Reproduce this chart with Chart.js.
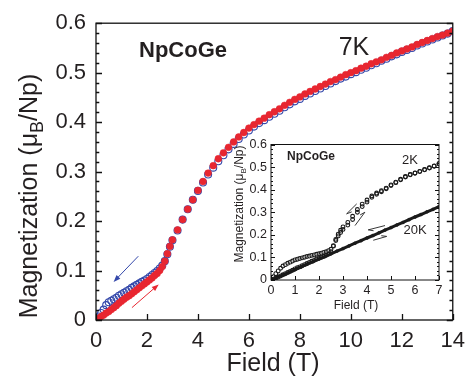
<!DOCTYPE html>
<html><head><meta charset="utf-8">
<script src="https://cdn.jsdelivr.net/npm/chart.js@4.4.1/dist/chart.umd.min.js"></script>
<style>
html,body{margin:0;padding:0;background:#fff;}
#wrap{position:relative;width:473px;height:384px;overflow:hidden;}
#main{position:absolute;left:0;top:0;}
#inset{position:absolute;left:222px;top:133px;}
</style></head><body>
<div id="wrap"><canvas id="main" width="473" height="384"></canvas><canvas id="inset" width="230" height="185"></canvas></div>
<script>
// ---------- MAIN PANEL DATA (7 K) ----------
const fieldMain = [0,0.1,0.2,0.3,0.4,0.5,0.6,0.7,0.8,0.9,1.0,1.1,1.2,1.3,1.4,1.5,1.6,1.7,1.8,1.9,2.0,2.1,2.2,2.3,2.4,2.5,2.6,2.7,2.8,2.9,3.0,
  3.2,3.4,3.6,3.8,4.0,4.2,4.4,4.6,4.8,5.0,5.2,5.4,5.6,5.8,6.0,6.2,6.4,6.6,6.8,7.0,7.2,7.4,7.6,7.8,8.0,8.2,8.4,8.6,8.8,9.0,
  9.2,9.4,9.6,9.8,10.0,10.2,10.4,10.6,10.8,11.0,11.2,11.4,11.6,11.8,12.0,12.2,12.4,12.6,12.8,13.0,13.2,13.4,13.6,13.8,14.0];
const magUp7K = [0.000,0.003,0.007,0.010,0.014,0.017,0.021,0.025,0.029,0.034,0.038,0.042,0.046,0.049,0.053,0.057,0.061,0.065,0.069,0.073,0.077,0.081,0.085,0.090,0.094,0.100,0.108,0.119,0.134,0.149,0.162,
  0.182,0.203,0.224,0.243,0.262,0.280,0.297,0.312,0.326,0.338,0.349,0.360,0.370,0.379,0.388,0.395,0.402,0.408,0.415,0.421,0.427,0.434,0.440,0.446,0.451,0.457,0.462,0.467,0.472,0.477,
  0.482,0.486,0.491,0.496,0.500,0.504,0.509,0.513,0.518,0.522,0.526,0.531,0.535,0.540,0.544,0.548,0.552,0.557,0.561,0.565,0.569,0.573,0.576,0.580,0.584];
const magDown7K = [0.000,0.007,0.014,0.021,0.030,0.036,0.039,0.042,0.045,0.049,0.052,0.055,0.058,0.061,0.065,0.068,0.071,0.074,0.077,0.080,0.083,0.087,0.091,0.095,0.099,0.104,0.110,0.119,0.133,0.148,0.161,
  0.181,0.203,0.224,0.243,0.261,0.278,0.294,0.308,0.321,0.333,0.345,0.356,0.366,0.375,0.383,0.391,0.398,0.404,0.411,0.417,0.423,0.430,0.436,0.442,0.447,0.453,0.458,0.463,0.468,0.473,
  0.478,0.483,0.488,0.492,0.497,0.501,0.506,0.510,0.515,0.519,0.524,0.528,0.533,0.537,0.542,0.546,0.550,0.555,0.559,0.563,0.567,0.571,0.575,0.579,0.584];
const xTicksMain = [0,2,4,6,8,10,12,14];
const yTicksMain = [0,0.1,0.2,0.3,0.4,0.5,0.6];

// ---------- INSET DATA (2 K, 20 K) ----------
const fieldInset = [0,0.1,0.2,0.3,0.4,0.5,0.6,0.7,0.8,0.9,1.0,1.1,1.2,1.3,1.4,1.5,1.6,1.7,1.8,1.9,2.0,2.1,2.2,2.3,2.4,2.5,2.6,2.7,2.8,2.9,3.0,
  3.2,3.4,3.6,3.8,4.0,4.2,4.4,4.6,4.8,5.0,5.2,5.4,5.6,5.8,6.0,6.2,6.4,6.6,6.8,7.0];
const magUp2K = [0.000,0.004,0.009,0.013,0.018,0.023,0.028,0.033,0.038,0.043,0.049,0.054,0.058,0.063,0.068,0.073,0.078,0.083,0.087,0.092,0.097,0.101,0.105,0.110,0.115,0.125,0.150,0.175,0.195,0.210,0.224,
  0.243,0.268,0.300,0.325,0.345,0.366,0.380,0.391,0.404,0.418,0.431,0.444,0.456,0.466,0.473,0.480,0.488,0.496,0.504,0.515];
const magDown2K = [0.000,0.015,0.028,0.040,0.052,0.062,0.068,0.074,0.079,0.084,0.089,0.092,0.095,0.098,0.101,0.104,0.106,0.109,0.111,0.114,0.116,0.119,0.122,0.125,0.130,0.136,0.152,0.180,0.203,0.220,0.235,
  0.255,0.282,0.312,0.336,0.354,0.372,0.385,0.395,0.407,0.421,0.433,0.446,0.458,0.467,0.474,0.481,0.489,0.497,0.505,0.515];
const field20K = [0,0.25,0.5,0.75,1.0,1.25,1.5,1.75,2.0,2.25,2.5,2.75,3.0,3.25,3.5,3.75,4.0,4.25,4.5,4.75,5.0,5.25,5.5,5.75,6.0,6.25,6.5,6.75,7.0];
const mag20K = [0.000,0.011,0.023,0.034,0.046,0.058,0.070,0.081,0.093,0.104,0.116,0.128,0.139,0.151,0.163,0.174,0.186,0.197,0.209,0.221,0.232,0.244,0.255,0.267,0.279,0.290,0.302,0.313,0.325];
const xTicksInset = [0,1,2,3,4,5,6,7];
const yTicksInset = [0,0.1,0.2,0.3,0.4,0.5,0.6];

const RED = 'rgb(232,38,48)';
const BLUE = 'rgb(52,72,170)';
const INK = '#231f20';
const FONT = "'Liberation Sans', Arial, Helvetica, sans-serif";
Chart.defaults.font.family = FONT;

function pts(xs, ys){ return xs.map((v,i)=>({x:v, y:ys[i]})); }

function drawFrameTicks(chart, o){
  const {ctx, chartArea:a, scales:{x,y}} = chart;
  ctx.save();
  ctx.strokeStyle = '#111'; ctx.lineWidth = o.lw;
  ctx.strokeRect(a.left, a.top, a.right-a.left, a.bottom-a.top);
  ctx.beginPath();
  const n = Math.round((y.max-y.min)/o.yMinor);
  for(let i=0;i<=n;i++){
    const v = y.min + i*o.yMinor;
    const p = Math.round(y.getPixelForValue(v))+0.5;
    const major = o.yTicks.some(t=>Math.abs(t-v)<1e-6);
    const L = major ? o.major : o.minor;
    ctx.moveTo(a.left, p); ctx.lineTo(a.left+L, p);
    ctx.moveTo(a.right, p); ctx.lineTo(a.right-L, p);
  }
  o.xTicks.forEach(v=>{
    const p = Math.round(x.getPixelForValue(v))+0.5;
    ctx.moveTo(p, a.bottom); ctx.lineTo(p, a.bottom-o.major);
  });
  ctx.stroke();
  ctx.restore();
}

function drawYTitle(ctx, cx, cy, size, parts){
  ctx.save();
  ctx.translate(cx, cy);
  ctx.rotate(-Math.PI/2);
  ctx.fillStyle = INK;
  ctx.textBaseline = 'alphabetic';
  const f1 = size+'px '+FONT, f2 = Math.round(size*0.7)+'px '+FONT;
  ctx.font = f1; const w1 = ctx.measureText(parts[0]).width; const w3 = ctx.measureText(parts[2]).width;
  ctx.font = f2; const w2 = ctx.measureText(parts[1]).width;
  let xx = -(w1+w2+w3)/2;
  ctx.font = f1; ctx.textAlign='left'; ctx.fillText(parts[0], xx, 0); xx += w1;
  ctx.font = f2; ctx.fillText(parts[1], xx, size*0.25); xx += w2;
  ctx.font = f1; ctx.fillText(parts[2], xx, 0);
  ctx.restore();
}

function arrow(ctx, x1,y1,x2,y2, color, head, half, lw){
  ctx.save();
  ctx.strokeStyle=color; ctx.fillStyle=color; ctx.lineWidth=lw;
  const ang = Math.atan2(y2-y1, x2-x1);
  ctx.beginPath(); ctx.moveTo(x1,y1); ctx.lineTo(x2-Math.cos(ang)*head*0.6, y2-Math.sin(ang)*head*0.6); ctx.stroke();
  ctx.beginPath();
  ctx.moveTo(x2,y2);
  ctx.lineTo(x2-Math.cos(ang)*head+Math.sin(ang)*half, y2-Math.sin(ang)*head-Math.cos(ang)*half);
  ctx.lineTo(x2-Math.cos(ang)*head-Math.sin(ang)*half, y2-Math.sin(ang)*head+Math.cos(ang)*half);
  ctx.closePath(); ctx.fill();
  ctx.restore();
}
function harpoon(ctx, x1,y1,x2,y2, side){
  ctx.save();
  ctx.strokeStyle='#222'; ctx.lineWidth=0.9;
  const ang = Math.atan2(y2-y1, x2-x1);
  ctx.beginPath(); ctx.moveTo(x1,y1); ctx.lineTo(x2,y2);
  const h=5, w=2.2*side;
  ctx.lineTo(x2-Math.cos(ang)*h+Math.sin(ang)*w, y2-Math.sin(ang)*h-Math.cos(ang)*w);
  ctx.stroke();
  ctx.restore();
}

const mainDeco = {
  id:'mainDeco',
  afterDatasetsDraw(chart){
    const {ctx, scales:{x,y}} = chart;
    drawFrameTicks(chart, {lw:1.3, yMinor:0.02, yTicks:yTicksMain, xTicks:xTicksMain, major:6, minor:3.3});
    arrow(ctx, x.getPixelForValue(1.66), y.getPixelForValue(0.129), x.getPixelForValue(0.69), y.getPixelForValue(0.077), BLUE, 7, 2.6, 1);
    arrow(ctx, x.getPixelForValue(1.41), y.getPixelForValue(0.025), x.getPixelForValue(2.46), y.getPixelForValue(0.072), RED, 7, 2.6, 1);
    ctx.save();
    ctx.fillStyle = INK; ctx.textAlign='center'; ctx.textBaseline='alphabetic';
    ctx.font = 'bold 22px '+FONT; ctx.fillText('NpCoGe', 183, 57);
    ctx.font = '25px '+FONT; ctx.fillText('7K', 354, 55);
    ctx.font = '25px '+FONT; ctx.fillText('Field (T)', 273, 371);
    ctx.restore();
    drawYTitle(ctx, 37, 196, 25, ['Magnetization (μ','B','/Np)']);
  }
};

new Chart(document.getElementById('main'), {
  type:'scatter',
  data:{ datasets:[
    { label:'7K up', data: pts(fieldMain, magUp7K), pointRadius:3.4, pointBackgroundColor:RED, pointBorderColor:RED, pointBorderWidth:0.5 },
    { label:'7K down', data: pts(fieldMain, magDown7K), pointRadius:3.5, pointBackgroundColor:'rgba(0,0,0,0)', pointBorderColor:BLUE, pointBorderWidth:1.1 }
  ]},
  options:{
    responsive:false, animation:false, devicePixelRatio:1,
    layout:{ padding:{ top:23, right:20, left:0, bottom:0 } },
    plugins:{ legend:{display:false}, tooltip:{enabled:false} },
    scales:{
      x:{ type:'linear', min:0, max:14,
        afterBuildTicks: s => { s.ticks = xTicksMain.map(v=>({value:v})); },
        ticks:{ font:{size:22}, color:INK, padding:8, maxRotation:0, autoSkip:false },
        grid:{ display:false, drawTicks:false }, border:{ display:false },
        afterFit: s => { s.height = 64; } },
      y:{ type:'linear', min:0, max:0.6,
        afterBuildTicks: s => { s.ticks = yTicksMain.map(v=>({value:v})); },
        ticks:{ font:{size:22}, color:INK, padding:10, autoSkip:false, callback: v => v===0 ? '0' : v.toFixed(1) },
        grid:{ display:false, drawTicks:false }, border:{ display:false },
        afterFit: s => { s.width = 96; } }
    }
  },
  plugins:[mainDeco]
});

const insetDeco = {
  id:'insetDeco',
  afterDatasetsDraw(chart){
    const {ctx, scales:{x,y}} = chart;
    drawFrameTicks(chart, {lw:1, yMinor:0.02, yTicks:yTicksInset, xTicks:xTicksInset, major:4, minor:2});
    const X = v => x.getPixelForValue(v), Y = v => y.getPixelForValue(v);
    harpoon(ctx, X(3.57), Y(0.337), X(3.15), Y(0.293), 1);
    harpoon(ctx, X(3.50), Y(0.241), X(3.91), Y(0.300), 1);
    harpoon(ctx, X(4.75), Y(0.241), X(4.05), Y(0.222), 1);
    harpoon(ctx, X(4.26), Y(0.176), X(4.82), Y(0.193), 1);
    ctx.save();
    ctx.fillStyle = INK; ctx.textAlign='center'; ctx.textBaseline='alphabetic';
    ctx.font = 'bold 12px '+FONT; ctx.fillText('NpCoGe', 311-222, 160-133);
    ctx.font = '13px '+FONT; ctx.fillText('2K', 410-222, 164-133);
    ctx.fillText('20K', 415-222, 234-133);
    ctx.font = '12px '+FONT; ctx.fillText('Field (T)', 356-222, 309-133);
    ctx.restore();
    drawYTitle(ctx, 243-222, 204-133, 12, ['Magnetization (μ','B','/Np)']);
  }
};

new Chart(document.getElementById('inset'), {
  type:'scatter',
  data:{ datasets:[
    { label:'20K', data: pts(field20K, mag20K), showLine:true, borderColor:'#1a1a1a', borderWidth:3, pointRadius:1.5, pointBackgroundColor:'#1a1a1a', pointBorderColor:'#1a1a1a', pointBorderWidth:0.5 },
    { label:'2K up', data: pts(fieldInset, magUp2K), pointRadius:1.9, pointBackgroundColor:'rgba(0,0,0,0)', pointBorderColor:'#1a1a1a', pointBorderWidth:1.1 },
    { label:'2K down', data: pts(fieldInset, magDown2K), pointRadius:1.9, pointBackgroundColor:'rgba(255,255,255,0.4)', pointBorderColor:'#1a1a1a', pointBorderWidth:1.1 }
  ]},
  options:{
    responsive:false, animation:false, devicePixelRatio:1,
    layout:{ padding:{ top:10, right:13, left:0, bottom:0 } },
    plugins:{ legend:{display:false}, tooltip:{enabled:false} },
    scales:{
      x:{ type:'linear', min:0, max:7,
        afterBuildTicks: s => { s.ticks = xTicksInset.map(v=>({value:v})); },
        ticks:{ font:{size:12.5}, color:INK, padding:3, maxRotation:0, autoSkip:false },
        grid:{ display:false, drawTicks:false }, border:{ display:false },
        afterFit: s => { s.height = 38; } },
      y:{ type:'linear', min:0, max:0.6,
        afterBuildTicks: s => { s.ticks = yTicksInset.map(v=>({value:v})); },
        ticks:{ font:{size:12.5}, color:INK, padding:4, autoSkip:false, callback: v => v===0 ? '0' : v.toFixed(1) },
        grid:{ display:false, drawTicks:false }, border:{ display:false },
        afterFit: s => { s.width = 49; } }
    }
  },
  plugins:[insetDeco]
});
</script>
</body></html>
